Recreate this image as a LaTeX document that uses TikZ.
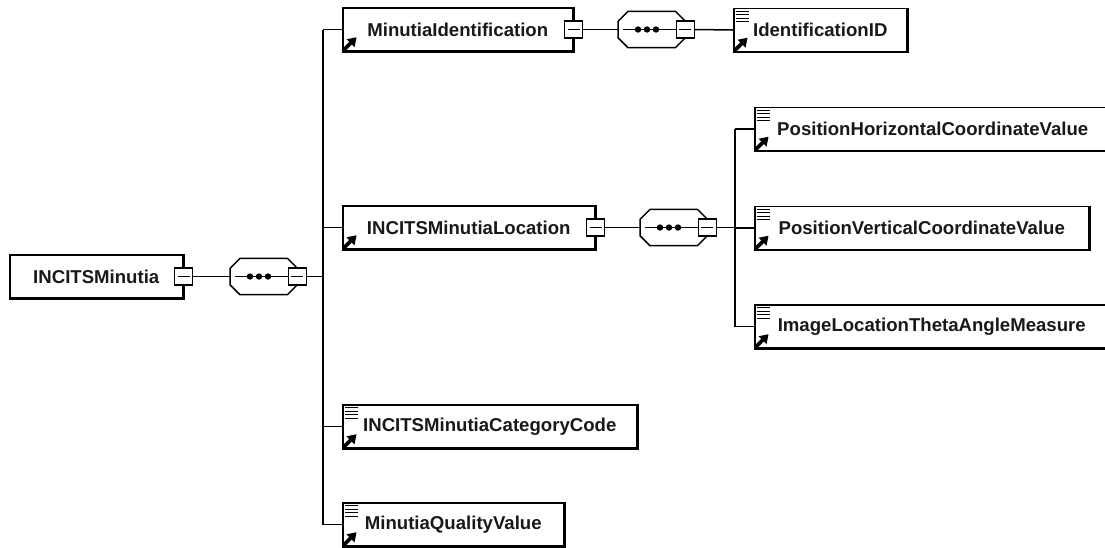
\documentclass[tikz,border=0pt]{standalone}
\usepackage{fontspec}
\setmainfont{Liberation Sans}
\begin{document}
\begin{tikzpicture}[x=1pt,y=-1pt,
  ln/.style={line width=1.5pt, draw=black},
  elem/.style={draw=black, line width=1.5pt, fill=white, minimum height=43pt, inner sep=0pt, anchor=west,
    font=\bfseries\fontsize{18.6}{20}\selectfont, text=black!90},
  minusbox/.style={draw=black, line width=1.5pt, fill=white, minimum width=18pt, minimum height=17pt, inner sep=0pt,
    path picture={\draw[line width=1.2pt] ([xshift=3pt]path picture bounding box.west) -- ([xshift=-3pt]path picture bounding box.east);}},
  comp/.style={minimum width=67pt, minimum height=36pt, inner sep=0pt, anchor=west}
]
\newcommand\shd[1]{\draw[line width=1.2pt] ([shift={(0.5pt,0pt)}]#1.north east) -- ([shift={(0.5pt,-0.5pt)}]#1.south east) -- ([shift={(0pt,-0.5pt)}]#1.south west);}
\newcommand\refico[1]{%
  \draw[line width=3.6pt] ([shift={(1.8pt,1.8pt)}]#1.south west) -- ([shift={(9pt,9pt)}]#1.south west);
  \fill ([shift={(14.5pt,14.5pt)}]#1.south west) -- ([shift={(4.5pt,12.5pt)}]#1.south west) -- ([shift={(12.5pt,4.5pt)}]#1.south west) -- cycle;}
\newcommand\simpico[1]{%
  \foreach \d in {3.5,7,10.5,14}{\draw[line width=1.4pt] ([shift={(2.5pt,-\d pt)}]#1.north west) -- ([shift={(16pt,-\d pt)}]#1.north west);}}
\newcommand\octo[1]{%
  \draw[ln, fill=white] ([xshift=10pt]#1.north west) -- ([xshift=-10pt]#1.north east) -- ([yshift=-10pt]#1.north east)
    -- ([yshift=10pt]#1.south east) -- ([xshift=-10pt]#1.south east) -- ([xshift=10pt]#1.south west)
    -- ([yshift=10pt]#1.south west) -- ([yshift=-10pt]#1.north west) -- cycle;
  \draw[line width=1.4pt] ([xshift=5pt]#1.west) -- (#1.east);
  \foreach \d in {20,29,38}{\fill ([xshift=\d pt]#1.west) circle (3.2pt);}}
\useasboundingbox (0,0) rectangle (1105,547);
\clip (0,0) rectangle (1105,547);
\fill[white] (0,0) rectangle (1105,547);

% root
\node[elem, minimum width=173pt] (root) at (9,276.5) {INCITSMinutia};
\shd{root}
\node[minusbox] (rm) at (root.east) {};
\node[comp] (c1) at (230,276.5) {};
\octo{c1}
\node[minusbox] (c1m) at (c1.east) {};
\coordinate (b1) at (323,276.5);
\draw[ln] (rm.east) -- (c1.west);
\draw[ln] (c1m.east) -- (b1);

% first-level children
\node[elem, minimum width=230pt] (mi) at (342,29.5) {MinutiaIdentification};
\node[elem, minimum width=252pt] (loc) at (342,227.5) {INCITSMinutiaLocation};
\node[elem, minimum width=294pt] (cat) at (342,426.5) {INCITSMinutiaCategoryCode};
\node[elem, minimum width=221pt] (qv) at (342,524.5) {MinutiaQualityValue};
\foreach \n in {mi,loc,cat,qv}{\shd{\n}\refico{\n}}
\simpico{cat}\simpico{qv}
\draw[ln] (b1 |- mi.west) -- (b1 |- qv.west);
\foreach \n in {mi,loc,cat,qv}{\draw[ln] (b1 |- \n.west) -- (\n.west);}

% MinutiaIdentification branch
\node[minusbox] (mim) at (mi.east) {};
\node[comp] (c2) at (618,29.5) {};
\octo{c2}
\node[minusbox] (c2m) at (c2.east) {};
\node[elem, minimum width=173pt] (idid) at (733,30) {IdentificationID};
\shd{idid}\refico{idid}\simpico{idid}
\draw[ln] (mim.east) -- (c2.west);
\draw[ln] (c2m.east) -- (idid.west);

% INCITSMinutiaLocation branch
\node[minusbox] (locm) at (loc.east) {};
\node[comp] (c3) at (640,227.5) {};
\octo{c3}
\node[minusbox] (c3m) at (c3.east) {};
\coordinate (b2) at (735,227.5);
\draw[ln] (locm.east) -- (c3.west);
\draw[ln] (c3m.east) -- (b2);
\node[elem, minimum width=356pt] (ph) at (754,129) {PositionHorizontalCoordinateValue};
\node[elem, minimum width=334pt] (pv) at (754,228) {PositionVerticalCoordinateValue};
\node[elem, minimum width=354pt] (il) at (754,326.5) {ImageLocationThetaAngleMeasure};
\foreach \n in {ph,pv,il}{\shd{\n}\refico{\n}\simpico{\n}}
\draw[ln] (b2 |- ph.west) -- (b2 |- il.west);
\foreach \n in {ph,pv,il}{\draw[ln] (b2 |- \n.west) -- (\n.west);}
\end{tikzpicture}
\end{document}
